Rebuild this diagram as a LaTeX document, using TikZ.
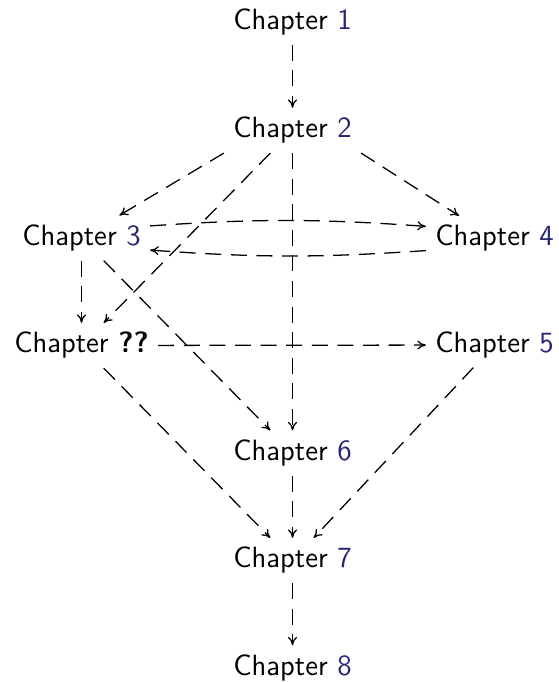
\documentclass[tikz,border=0pt]{standalone}
\usetikzlibrary{arrows.meta}
\renewcommand{\familydefault}{\sfdefault}
\definecolor{refblue}{RGB}{38,38,115}
\newcommand{\chnum}[1]{\textcolor{refblue}{#1}}
\begin{document}
\begin{tikzpicture}[x=0.375pt,y=-0.375pt,
  chap/.style={inner sep=3.33pt, font=\fontsize{11}{13}\selectfont},
  dep/.style={-{To[length=3.2pt,width=3.4pt]}, line width=0.48pt, dash pattern=on 6pt off 3.6pt},
]
\useasboundingbox (0,0) rectangle (558,682);
\node[chap] (c1) at (292.5,22) {Chapter \chnum{1}};
\node[chap] (c2) at (292.5,130.5) {Chapter \chnum{2}};
\node[chap] (c3) at (81.5,238) {Chapter \chnum{3}};
\node[chap] (c4) at (494.5,238.5) {Chapter \chnum{4}};
\node[chap] (cq) at (81.5,345.5) {Chapter \textbf{??}};
\node[chap] (c5) at (494.5,345) {Chapter \chnum{5}};
\node[chap] (c6) at (292.5,453) {Chapter \chnum{6}};
\node[chap] (c7) at (292.5,560.5) {Chapter \chnum{7}};
\node[chap] (c8) at (292.5,668) {Chapter \chnum{8}};

\draw[dep] (c1) -- (c2);
\draw[dep] (c2.south west) -- (c3);
\draw[dep] (c2) -- (cq);
\draw[dep] (c2.south east) -- (c4);
\draw[dep] (c2) -- (c6);
\draw[dep] (c3.10) to[bend left=4] (c4.170);
\draw[dep] (c4.190) to[bend left=4] (c3.350);
\draw[dep] (c3) -- (cq);
\draw[dep] (c3) -- (c6);
\draw[dep] (cq) -- (c5);
\draw[dep] (cq) -- (c7);
\draw[dep] (c5) -- (c7);
\draw[dep] (c6) -- (c7);
\draw[dep] (c7) -- (c8);
\end{tikzpicture}
\end{document}
